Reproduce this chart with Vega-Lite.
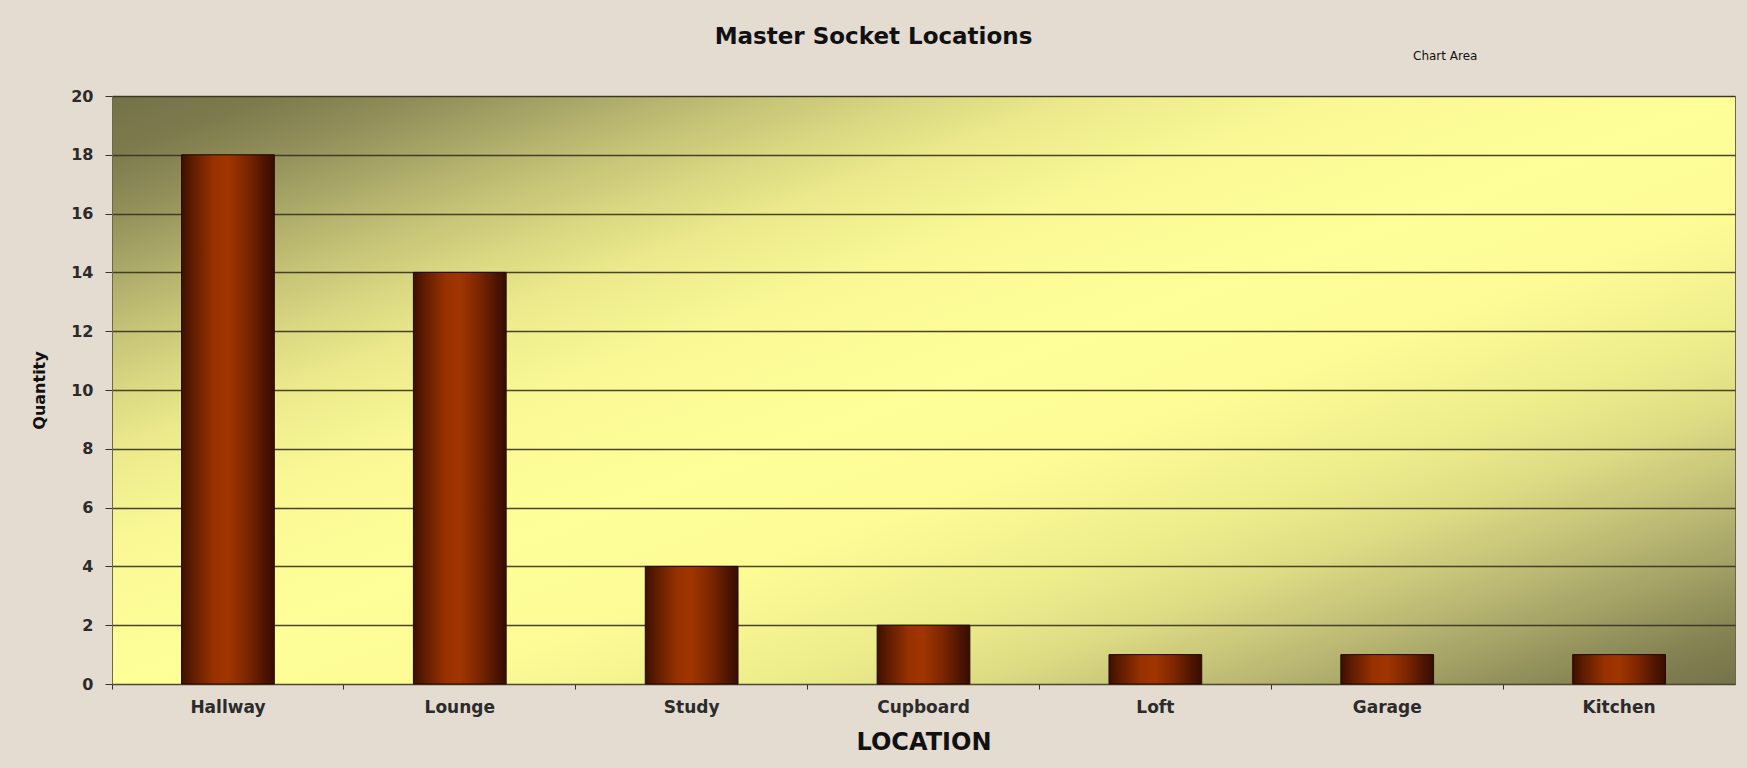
{
  "$schema": "https://vega.github.io/schema/vega-lite/v6.json",
  "width": 1623,
  "height": 588,
  "autosize": {"type": "none"},
  "padding": {"left": 112, "top": 96, "right": 12, "bottom": 84},
  "background": "#e4dcd1",
  "view": {
    "stroke": "#6b6947",
    "strokeWidth": 1,
    "fill": {
      "gradient": "linear",
      "x1": 0, "y1": 0, "x2": 1, "y2": 1,
      "stops": [
        {"offset": 0, "color": "#737148"},
        {"offset": 0.05, "color": "#7d7b4d"},
        {"offset": 0.1, "color": "#928f5a"},
        {"offset": 0.15, "color": "#aba968"},
        {"offset": 0.2, "color": "#c4c276"},
        {"offset": 0.25, "color": "#d9d781"},
        {"offset": 0.3, "color": "#ebe98b"},
        {"offset": 0.38, "color": "#f9f895"},
        {"offset": 0.5, "color": "#ffff99"},
        {"offset": 0.6, "color": "#fcfb96"},
        {"offset": 0.7, "color": "#eeed8c"},
        {"offset": 0.76, "color": "#dfdd84"},
        {"offset": 0.82, "color": "#c6c479"},
        {"offset": 0.89, "color": "#a5a366"},
        {"offset": 0.95, "color": "#868453"},
        {"offset": 1, "color": "#747249"}
      ]
    }
  },
  "title": {
    "text": "Master Socket Locations",
    "font": "DejaVu Sans",
    "fontSize": 23,
    "fontWeight": "bold",
    "color": "#111111",
    "anchor": "middle",
    "offset": 1,
    "dx": -50
  },
  "config": {
    "axis": {
      "labelFont": "DejaVu Sans",
      "labelFontWeight": "bold",
      "labelColor": "#2b2b2b",
      "titleFont": "DejaVu Sans",
      "titleFontWeight": "bold",
      "titleColor": "#111111"
    }
  },
  "data": {
    "values": [
      {"location": "Hallway", "quantity": 18},
      {"location": "Lounge", "quantity": 14},
      {"location": "Study", "quantity": 4},
      {"location": "Cupboard", "quantity": 2},
      {"location": "Loft", "quantity": 1},
      {"location": "Garage", "quantity": 1},
      {"location": "Kitchen", "quantity": 1}
    ]
  },
  "layer": [
    {
      "mark": {
        "type": "bar",
        "width": {"band": 0.4},
        "stroke": "#220900",
        "strokeWidth": 1,
        "color": {
          "gradient": "linear",
          "x1": 0, "y1": 0, "x2": 1, "y2": 0,
          "stops": [
            {"offset": 0, "color": "#3c1000"},
            {"offset": 0.12, "color": "#5f1d00"},
            {"offset": 0.35, "color": "#983200"},
            {"offset": 0.5, "color": "#a13500"},
            {"offset": 0.7, "color": "#7d2700"},
            {"offset": 0.9, "color": "#4c1400"},
            {"offset": 1, "color": "#380d00"}
          ]
        }
      },
      "encoding": {
        "x": {
          "field": "location",
          "type": "nominal",
          "sort": null,
          "scale": {"paddingInner": 0, "paddingOuter": 0},
          "axis": {
            "title": "LOCATION",
            "titleFontSize": 24,
            "titlePadding": 15,
            "labelAngle": 0,
            "labelFontSize": 17,
            "labelPadding": 10,
            "tickSize": 5,
            "tickColor": "#333333",
            "bandPosition": 0,
            "domainColor": "#4a4a35",
            "grid": false
          }
        },
        "y": {
          "field": "quantity",
          "type": "quantitative",
          "scale": {"domain": [0, 20]},
          "axis": {
            "title": "Quantity",
            "titleFontSize": 16,
            "titlePadding": 23,
            "values": [0, 2, 4, 6, 8, 10, 12, 14, 16, 18, 20],
            "labelFontSize": 16,
            "labelPadding": 12,
            "tickSize": 7,
            "tickColor": "#333333",
            "domainColor": "#6b6947",
            "grid": true,
            "gridColor": "#36321f",
            "gridOpacity": 0.9,
            "gridWidth": 1.5
          }
        }
      }
    },
    {
      "data": {"values": [{"note": "Chart Area"}]},
      "mark": {
        "type": "text",
        "font": "DejaVu Sans",
        "fontSize": 12,
        "color": "#111111",
        "dx": 58,
        "baseline": "middle",
        "align": "center"
      },
      "encoding": {
        "text": {"field": "note"},
        "x": {"datum": "Garage"},
        "y": {"datum": 21.36}
      }
    }
  ]
}
